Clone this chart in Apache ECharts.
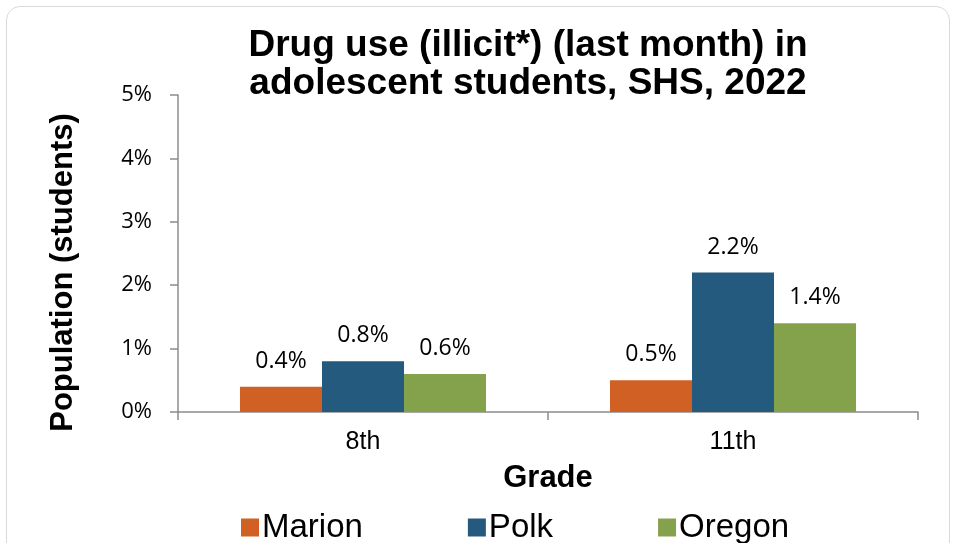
<!DOCTYPE html>
<html><head><meta charset="utf-8">
<script src="https://cdn.jsdelivr.net/npm/echarts@6/dist/echarts.min.js"></script>
<style>
html,body{margin:0;padding:0;background:#fff;}
#frame{position:absolute;left:6px;top:6px;width:944px;height:560px;border:1.5px solid #d9d9d9;border-radius:14px;box-sizing:border-box;}
#c{position:absolute;left:0;top:0;width:957px;height:543px;}
</style></head>
<body>
<div id="frame"></div>
<div id="c"></div>
<script>
const categories = ['8th', '11th'];
const seriesNames = ['Marion', 'Polk', 'Oregon'];
const marion = [0.4, 0.5];
const polk = [0.8, 2.2];
const oregon = [0.6, 1.4];
const yTicks = [0, 1, 2, 3, 4, 5];
const colors = ['#D06024', '#245A7E', '#84A24C'];

const chart = echarts.init(document.getElementById('c'), null, {renderer: 'canvas'});
const lblFont = 'Open Sans';
function mk(name, data, color) {
  return {
    name, type: 'bar', data, barGap: '0%', barCategoryGap: '33.5%',
    itemStyle: {color},
    label: {show: true, position: 'top', distance: 14, formatter: p => p.value.toFixed(1) + '%',
      fontFamily: lblFont, fontSize: 23, color: '#000'}
  };
}
chart.setOption({
  animation: false,
  title: {
    text: 'Drug use (illicit*) (last month) in\nadolescent students, SHS, 2022',
    left: 523, top: 22, textAlign: 'center',
    textStyle: {fontFamily: 'Liberation Sans', fontWeight: 'bold', fontSize: 37, lineHeight: 38, color: '#000'}
  },
  legend: {
    data: seriesNames, top: 506, left: 236, itemWidth: 18, itemHeight: 18, itemGap: 105,
    icon: 'rect',
    textStyle: {fontFamily: 'Liberation Sans', fontSize: 33, color: '#000', padding: [0,0,0,-2]}
  },
  grid: {left: 178, right: 39, top: 95, bottom: 131, containLabel: false},
  xAxis: {
    type: 'category', data: categories,
    name: 'Grade', nameLocation: 'middle', nameGap: 51,
    nameTextStyle: {fontFamily: 'Liberation Sans', fontWeight: 'bold', fontSize: 31, color: '#000'},
    axisLine: {lineStyle: {color: '#8c8c8c', width: 1.5}},
    axisTick: {show: true, length: 8, lineStyle: {color: '#8c8c8c', width: 1.5}},
    axisLabel: {fontFamily: 'Liberation Sans', fontSize: 25, color: '#000', margin: 18}
  },
  yAxis: {
    type: 'value', min: 0, max: 5, interval: 1,
    name: 'Population (students)', nameLocation: 'middle', nameGap: 99, nameRotate: 90,
    nameTextStyle: {fontFamily: 'Liberation Sans', fontWeight: 'bold', fontSize: 31, color: '#000', padding: [0, 38, 0, 0]},
    axisLine: {show: true, lineStyle: {color: '#8c8c8c', width: 1.5}},
    axisTick: {show: true, length: 8, lineStyle: {color: '#8c8c8c', width: 1.5}},
    splitLine: {show: false},
    axisLabel: {fontFamily: lblFont, fontSize: 22, color: '#000', margin: 26, formatter: v => yTicks.includes(v) ? v + '%' : ''}
  },
  series: [mk(seriesNames[0], marion, colors[0]), mk(seriesNames[1], polk, colors[1]), mk(seriesNames[2], oregon, colors[2])]
});
</script>
</body></html>
